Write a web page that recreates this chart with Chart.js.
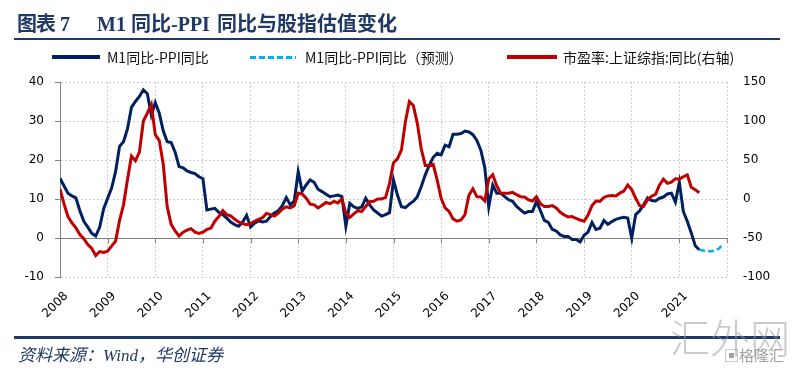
<!DOCTYPE html>
<html lang="zh-CN">
<head>
<meta charset="utf-8">
<title>M1同比-PPI同比与股指估值变化</title>
<script src="https://cdn.jsdelivr.net/npm/chart.js@4.4.1/dist/chart.umd.min.js"></script>
<style>
    html, body { margin: 0; padding: 0; background: #fff; }
    .page { position: relative; width: 800px; height: 372px; overflow: hidden; background: #fff; }
    #chart { position: absolute; left: 0; top: 0; }
    .abs { position: absolute; white-space: nowrap; pointer-events: none; }
    .title { font-family: "Liberation Serif", "Noto Sans CJK SC", serif; font-weight: bold; font-size: 20px; line-height: 20px; color: #1F3864; top: 14px; }
    .rule { background: #1F3864; }
    .legend-text { font-family: "Noto Sans CJK SC", sans-serif; font-size: 14px; line-height: 16px; color: #111; top: 49px; }
    .source { font-family: "Liberation Serif", "Noto Sans CJK SC", serif; font-style: italic; font-size: 17px; line-height: 19px; color: #1F3864; left: 18px; top: 346px; }
    .mark { font-family: "Noto Sans CJK SC", sans-serif; color: rgba(150, 150, 150, 0.5); }
</style>
</head>
<body>
<div class="page">
    <canvas id="chart" width="800" height="372"></canvas>

    <div class="abs title" style="left:17px; letter-spacing:-1px">图表</div>
    <div class="abs title" style="left:60px">7</div>
    <div class="abs title" style="left:97px">M1</div>
    <div class="abs title" style="left:131px">同比</div>
    <div class="abs title" style="left:171px">-PPI</div>
    <div class="abs title" style="left:217px">同比与股指估值变化</div>
    <div class="abs rule" style="left:14px; top:38px; width:766px; height:2px"></div>

    <div class="abs" style="left:52px; top:55px; width:48px; height:4px; background:#002060"></div>
    <div class="abs legend-text" style="left:107px">M1同比-PPI同比</div>
    <div class="abs" style="left:250px; top:56px; width:46px; height:3px; background:repeating-linear-gradient(to right, #00B0F0 0 6px, transparent 6px 9px)"></div>
    <div class="abs legend-text" style="left:305px">M1同比-PPI同比（预测）</div>
    <div class="abs" style="left:507px; top:55px; width:50px; height:4px; background:#C00000"></div>
    <div class="abs legend-text" style="left:563px">市盈率:上证综指:同比(右轴)</div>

    <div class="abs rule" style="left:14px; top:336px; width:766px; height:3px"></div>
    <div class="abs source">资料来源：Wind，华创证券</div>

    <div class="abs mark" style="left:670px; top:314px; font-size:40px; line-height:44px; font-weight:300">汇外网</div>
    <div class="abs mark" style="left:724px; top:346px; font-size:15px; line-height:17px; color:rgba(120,120,120,0.7)">▣格隆汇</div>
</div>

<script>
// monthly data, Jan 2008 onwards
const yearLabels = ['2008', '2009', '2010', '2011', '2012', '2013', '2014',
    '2015', '2016', '2017', '2018', '2019', '2020', '2021'];

// M1同比-PPI同比 (%, left axis), Jan 2008 - Jun 2021
const m1MinusPpi = [
    15.3, 13.4, 11.5, 10.8, 10.3, 7, 4.3, 2.8, 1.2, 0.5, 2.8, 7.5,
    10.2, 12.8, 17, 23.5, 24.7, 28, 33.5, 35, 36.3, 38, 37, 31.5,
    34.7, 32, 27.5, 24.7, 24.5, 22, 18.3, 18, 17.2, 16.8, 16.5, 15.7,
    15.2, 7.2, 7.4, 7.6, 6.6, 6, 5.1, 4.1, 3.4, 3, 4.1, 5.8,
    2.8, 3.8, 4.4, 4.1, 4.3, 5.5, 6.4, 7, 8.3, 10.4, 8.5, 9.5,
    17, 12, 13.6, 14.9, 14.3, 12.5, 11.9, 11.2, 10.6, 10.8, 11, 10.6,
    3, 8.9, 8, 7.6, 8, 10.2, 8.5, 7.2, 6.4, 5.6, 6, 6.5,
    14.9, 11, 8, 7.8, 8.7, 9.4, 10.6, 13.2, 16.2, 18.6, 20.7, 21.7,
    21.3, 23.8, 23.4, 26.6, 26.6, 26.8, 27.4, 27.2, 26.5, 25, 22.5, 18,
    8, 13.6, 11.5, 11.5, 10.6, 9.8, 9.4, 8.1, 7.2, 6.4, 6.8, 6.8,
    9.4, 7, 4.5, 4, 2.2, 1.8, 0.8, 0.4, 0.4, -0.4, -0.4, -1,
    0.7, 1.5, 4, 2.2, 2.5, 4.5, 3.5, 4.2, 4.8, 5.1, 5.3, 5.1,
    0, 6, 7, 8.5, 10.3, 9.6, 9.5, 10.2, 10.5, 11.3, 11.5, 9.2,
    14.3, 6.8, 4.3, 1.3, -2, -3
];

// forecast, Jun 2021 - Dec 2021
const forecastStart = 161;
const m1MinusPpiForecast = [-3, -3.2, -3.4, -3.4, -3.2, -2.7, -1.5];

// 市盈率:上证综指:同比 (%, right axis), Jan 2008 - Jun 2021
const peYoY = [
    12.5, -6, -22.5, -30.5, -37, -45.5, -51, -58.5, -63.5, -72.5, -67.5, -68.5,
    -67, -60.5, -54, -27.5, -7.5, 25, 55, 49, 60, 100, 110, 121,
    82.5, 75, 45, -10, -32.5, -41, -47.5, -42.5, -40, -38, -42.5, -44,
    -42.5, -39, -37.5, -28.5, -22.5, -15, -20, -21.5, -26, -29.5, -31.5, -33,
    -31.5, -28.5, -26, -24, -18.5, -20, -22, -18, -13, -10, -11.5, -8.5,
    7.5, 6.5, 1, -6.5, -7.5, -11.5, -8, -4.5, -6, -3, -5, 0,
    -18, -23.5, -19, -15, -16, -9.5, -3.5, -3, 0, 0, 2, 20,
    46.5, 51.5, 63, 99, 125, 120, 97, 64, 43, 43, 44.5, 24.5,
    1, -11.5, -16, -25.5, -28.5, -27, -20, 5, 13, 3, 2.5, -2.5,
    26, 31, 17, 7.5, 7.5, 7.5, 8.5, 5.5, 3, 2.5, -1, -2.5,
    3, -6, -9.5, -9.5, -8.5, -11.5, -17, -20.5, -23, -22.5, -25, -27,
    -28.5, -20.5, -8.5, -2.5, -3, 2, 4, 4.5, 4, 7.5, 10, 18,
    12, 1, -8.5, -9.5, -1, 3.5, 6, 18, 25.5, 20, 21.5, 26,
    25.5, 28.5, 31, 15, 12, 8
];

const toPoints = (values, offset) => values.map((v, i) => ({ x: i + offset, y: v }));

// small tick marks on the zero line, like the Excel axis crossing at 0
const zeroLineTicks = {
    id: 'zeroLineTicks',
    beforeDatasetsDraw(chart) {
        const { ctx, scales } = chart;
        const y0 = scales.y.getPixelForValue(0);
        ctx.save();
        ctx.strokeStyle = '#808080';
        ctx.lineWidth = 1;
        scales.x.ticks.forEach(t => {
            const px = Math.round(scales.x.getPixelForValue(t.value)) + 0.5;
            ctx.beginPath();
            ctx.moveTo(px, y0);
            ctx.lineTo(px, y0 + 5);
            ctx.stroke();
        });
        ctx.restore();
    }
};

// year labels turned 45 degrees under the plot
const rotatedYearLabels = {
    id: 'rotatedYearLabels',
    afterDraw(chart) {
        const { ctx, chartArea, scales } = chart;
        ctx.save();
        ctx.font = '12px "DejaVu Sans", sans-serif';
        ctx.fillStyle = '#000';
        ctx.textAlign = 'right';
        ctx.textBaseline = 'top';
        yearLabels.forEach((label, k) => {
            const px = scales.x.getPixelForValue(k * 12);
            ctx.save();
            ctx.translate(px + 2, chartArea.bottom + 13);
            ctx.rotate(-Math.PI / 4);
            ctx.fillText(label, 0, 0);
            ctx.restore();
        });
        ctx.restore();
    }
};

Chart.defaults.font.family = '"DejaVu Sans", sans-serif';
Chart.defaults.font.size = 12;
Chart.defaults.color = '#000';

const gridGray = '#d0d0d0';
const axisGray = '#808080';

new Chart(document.getElementById('chart'), {
    type: 'line',
    data: {
        datasets: [{
            label: '市盈率:上证综指:同比(右轴)',
            data: toPoints(peYoY, 0),
            yAxisID: 'y1',
            borderColor: '#C00000',
            borderWidth: 3,
            pointRadius: 0,
            order: 0
        }, {
            label: 'M1同比-PPI同比',
            data: toPoints(m1MinusPpi, 0),
            yAxisID: 'y',
            borderColor: '#002060',
            borderWidth: 3,
            pointRadius: 0,
            order: 1
        }, {
            label: 'M1同比-PPI同比（预测）',
            data: toPoints(m1MinusPpiForecast, forecastStart),
            yAxisID: 'y',
            borderColor: '#00B0F0',
            borderWidth: 2.5,
            borderDash: [6, 3],
            pointRadius: 0,
            order: 2
        }]
    },
    options: {
        responsive: false,
        devicePixelRatio: 1,
        animation: false,
        layout: { padding: { top: 82, left: 0, right: 0, bottom: 0 } },
        plugins: {
            legend: { display: false },
            tooltip: { enabled: false }
        },
        scales: {
            x: {
                type: 'linear',
                min: 0,
                max: yearLabels.length * 12,
                ticks: { stepSize: 12, display: false },
                grid: { color: gridGray, drawTicks: false },
                border: { display: false, dash: [2, 2] },
                afterFit: s => { s.height = 95; }
            },
            y: {
                position: 'left',
                min: -10,
                max: 40,
                ticks: { stepSize: 10, padding: 11 },
                grid: {
                    color: c => (c.tick && c.tick.value === 0 ? axisGray : gridGray),
                    tickColor: axisGray,
                    tickLength: 5
                },
                border: {
                    display: true,
                    color: axisGray,
                    dash: c => (c.tick && c.tick.value === 0 ? [] : [2, 2])
                },
                afterFit: s => { s.width = 60; }
            },
            y1: {
                position: 'right',
                min: -100,
                max: 150,
                ticks: { stepSize: 50, padding: 16 },
                grid: { drawOnChartArea: false, drawTicks: false },
                border: { display: false },
                afterFit: s => { s.width = 73; }
            }
        }
    },
    plugins: [zeroLineTicks, rotatedYearLabels]
});
</script>
</body>
</html>
